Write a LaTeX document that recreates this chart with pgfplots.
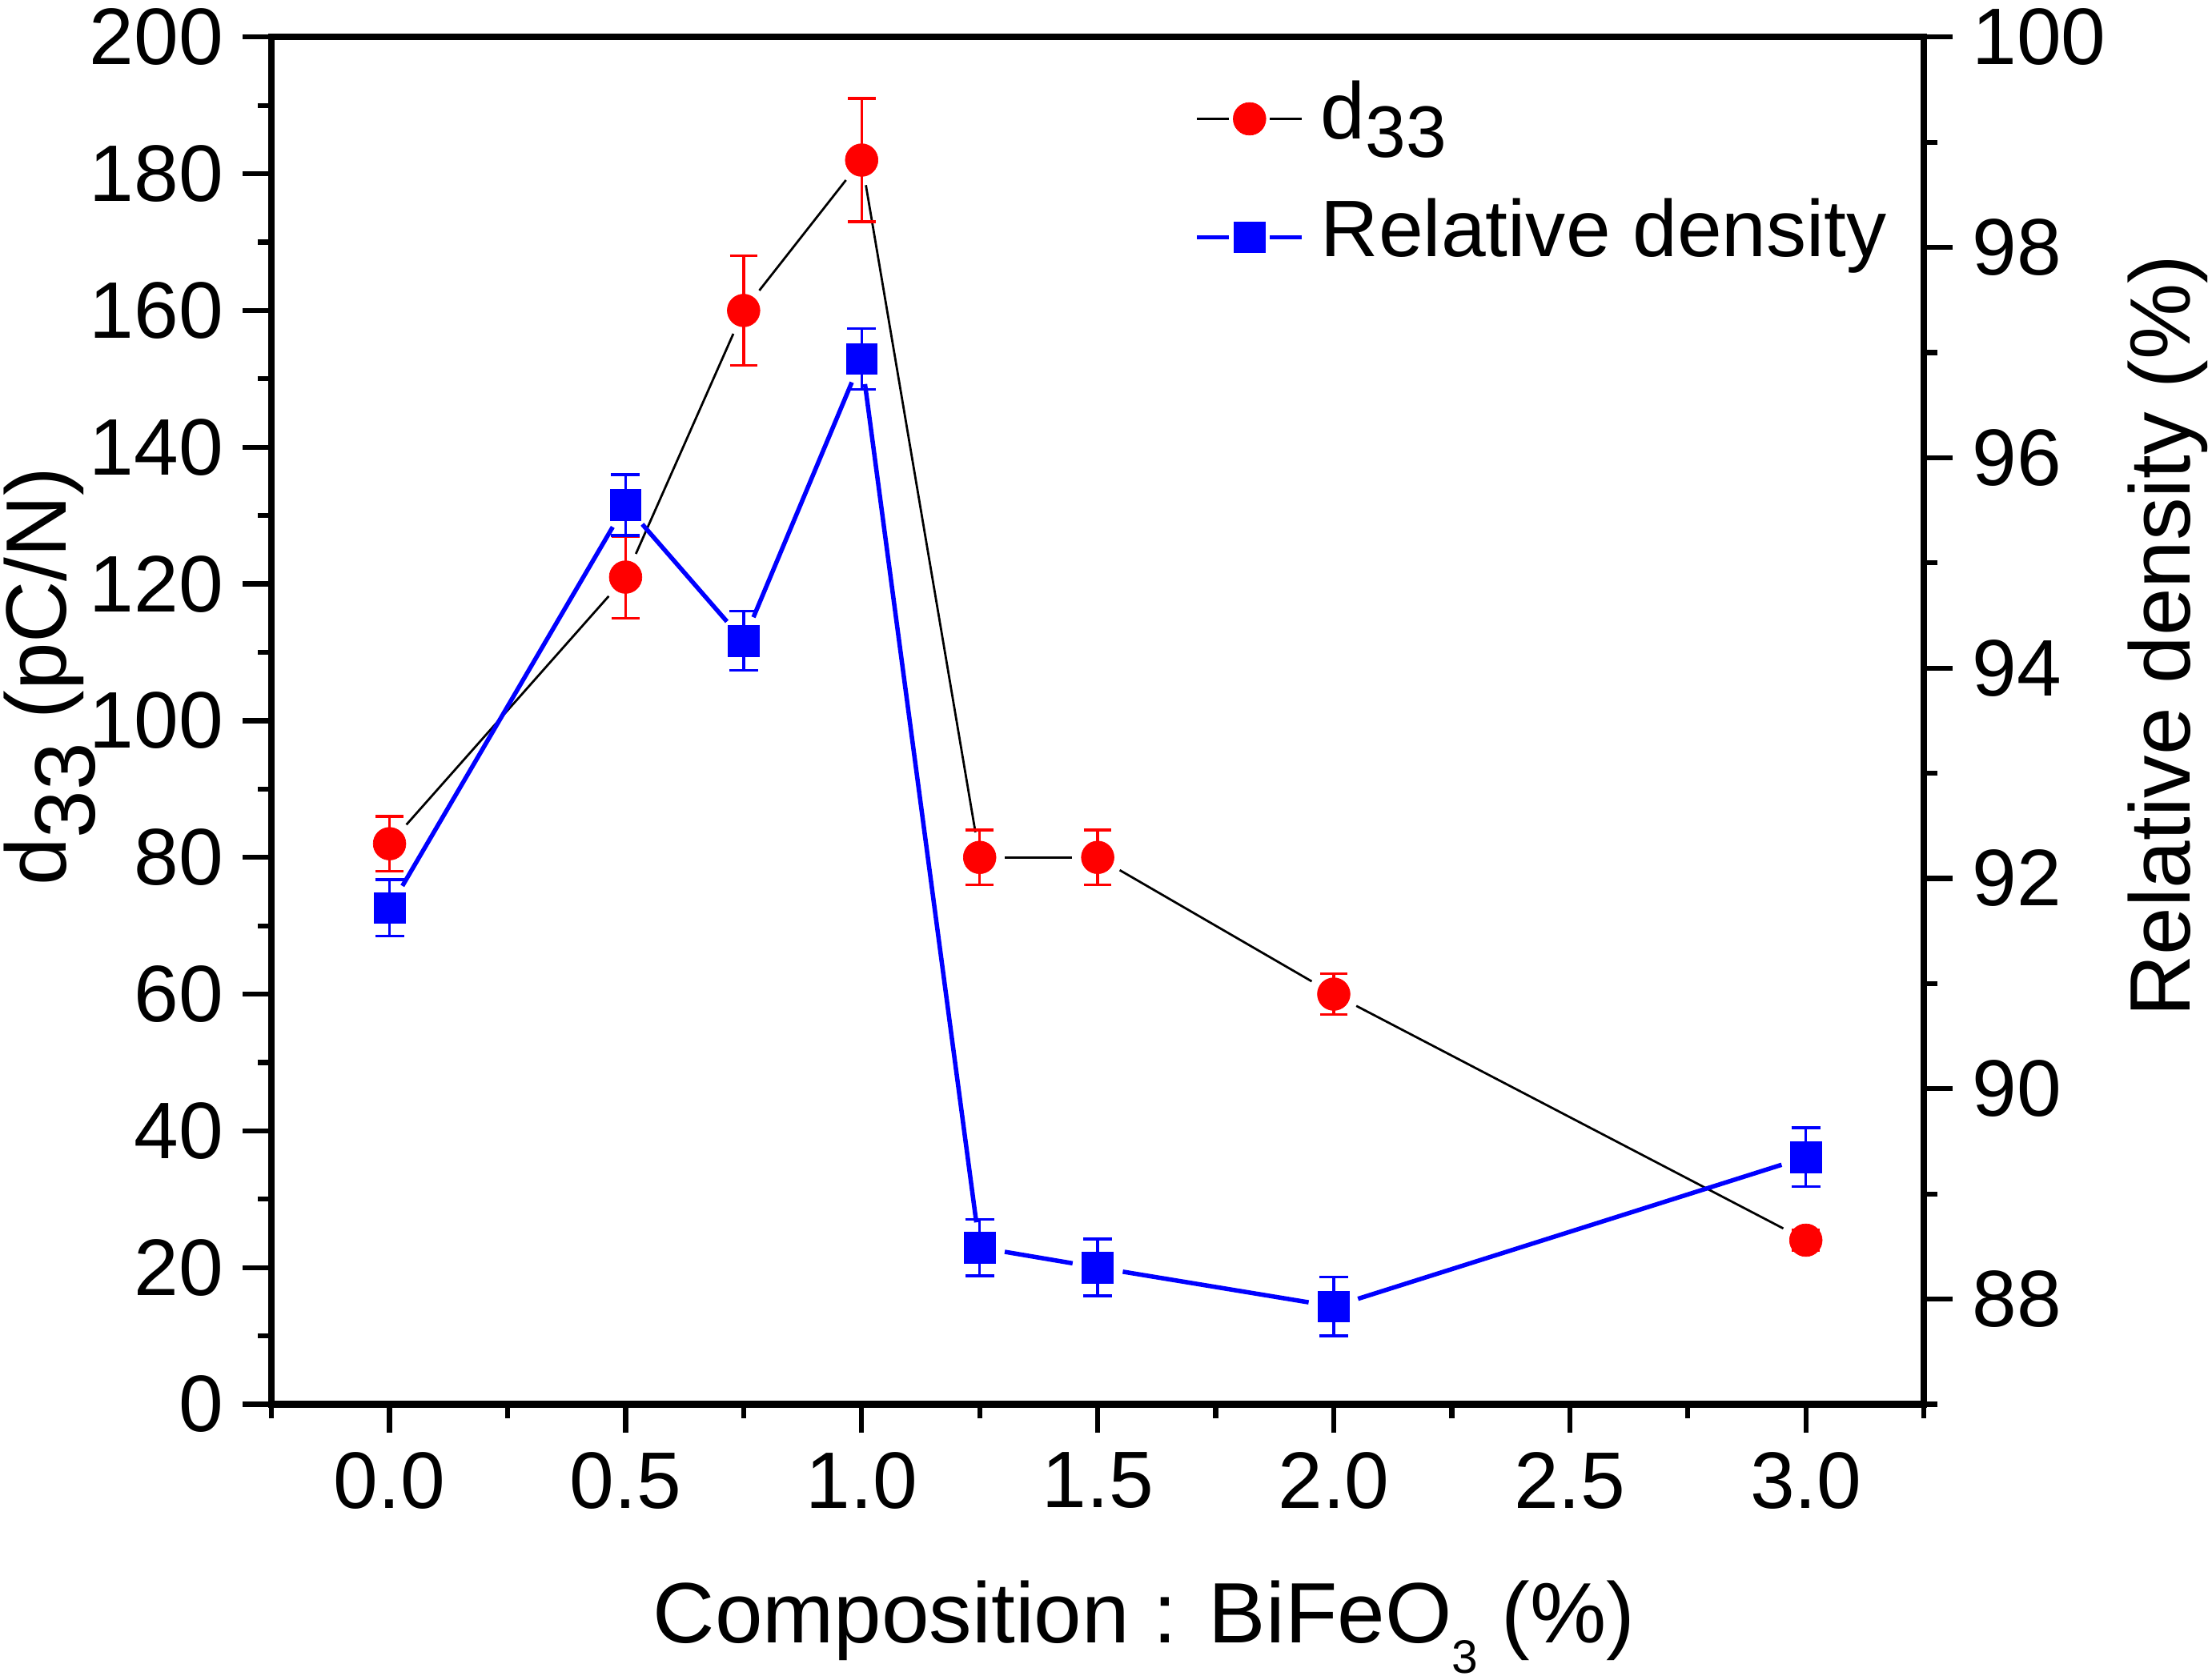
\documentclass[border=0pt]{standalone}
\usepackage{fontspec}
\setmainfont{Liberation Sans}
\usepackage{pgfplots}
\usepackage{pgfplotstable}
\pgfplotsset{compat=1.18}

\newcommand{\lblfont}{\fontsize{15.5}{18}\selectfont}
\newcommand{\tickfont}{\fontsize{14.5}{17}\selectfont}
\newcommand{\legfont}{\fontsize{14.5}{17}\selectfont}

\pgfplotstableread{
x y e
0 82 4
0.5 121 6
0.75 160 8
1.0 182 9
1.25 80 4
1.5 80 4
2.0 60 3
3.0 24 1.5
}\dthree

\pgfplotstableread{
x y e
0 91.72 0.27
0.5 95.55 0.29
0.75 94.26 0.28
1.0 96.94 0.29
1.25 88.49 0.27
1.5 88.30 0.27
2.0 87.93 0.28
3.0 89.35 0.28
}\dens

\begin{document}
\begin{tikzpicture}
\pgfplotsset{
  common/.style={
    scale only axis, width=298.8pt, height=247.3pt,
    xmin=-0.25, xmax=3.25,
    tick align=outside,
    major tick length=5.2pt, minor tick length=2.5pt,
    every tick/.style={black, line width=0.9pt},
    axis line style={line width=1.2pt},
    tick label style={font=\tickfont},
    /pgf/number format/assume math mode=true,
  },
  dseg/.style={black, line width=0.4pt, shorten <=4.6pt, shorten >=4.6pt, forget plot, mark=none},
  bseg/.style={blue, line width=0.8pt, shorten <=4.6pt, shorten >=4.6pt, forget plot, mark=none},
}
\begin{axis}[common,
  ymin=0, ymax=200, ytick={0,20,...,200}, minor ytick={10,30,...,190},
  xtick={0,0.5,...,3}, minor xtick={-0.25,0.25,0.75,1.25,1.75,2.25,2.75,3.25},
  xtick pos=bottom, ytick pos=left,
  xticklabel style={/pgf/number format/.cd, fixed, fixed zerofill, precision=1},
  xlabel={Composition : BiFeO\raisebox{-5.5pt}{\fontsize{8.5}{9}\selectfont 3} (\%)},
  ylabel={d\raisebox{-0.33em}{33} (pC/N)},
  xlabel style={font=\lblfont, at={(axis description cs:0.5,0)}, anchor=base, yshift=-43.1pt, xshift=8.4pt},
  ylabel style={font=\lblfont, rotate=0, at={([xshift=-37.1pt,yshift=8pt]axis description cs:0,0.5)}, anchor=base},
]
\coordinate (ll) at (rel axis cs:0,0);
\coordinate (ur) at (rel axis cs:1,1);
\addplot[dseg] coordinates {(0,82) (0.5,121)};
\addplot[dseg] coordinates {(0.5,121) (0.75,160)};
\addplot[dseg] coordinates {(0.75,160) (1.0,182)};
\addplot[dseg] coordinates {(1.0,182) (1.25,80)};
\addplot[dseg] coordinates {(1.25,80) (1.5,80)};
\addplot[dseg] coordinates {(1.5,80) (2.0,60)};
\addplot[dseg] coordinates {(2.0,60) (3.0,24)};
\addplot[red, only marks, mark=*, mark size=2.95pt,
  mark options={fill=red, draw=red, line width=0.1pt},
  error bars/.cd, y dir=both, y explicit,
  error bar style={red, line width=0.5pt},
  error mark options={rotate=90, red, mark size=2.5pt, line width=0.5pt}]
  table[x=x, y=y, y error=e] {\dthree};
\end{axis}

\begin{axis}[common,
  ymin=87, ymax=100, ytick={88,90,...,100}, minor ytick={87,89,...,99},
  axis y line*=right, axis x line=none,
  ylabel={Relative density (\%)},
  ylabel style={font=\lblfont, rotate=0, at={([xshift=48.1pt,yshift=15.3pt]axis description cs:1,0.5)}, anchor=base},
  legend image code/.code={
    \draw[#1, mark=none] (0pt,0pt) -- (5.8pt,0pt);
    \draw[#1, mark=none] (13.2pt,0pt) -- (19pt,0pt);
    \draw[#1, only marks] plot coordinates {(9.5pt,0pt)};
  },
  legend style={at={(rel axis cs:0.5581,0.9699)}, anchor=north west,
    draw=none, fill=none, inner sep=0pt, column sep=3pt, row sep=7.1pt,
    nodes={inner sep=0pt, text height=10.7pt, text depth=3.6pt, font=\legfont}},
  legend cell align=left,
]
\addlegendimage{black, line width=0.4pt, mark=*, mark size=2.95pt, mark options={solid, fill=red, draw=red, line width=0.1pt}}
\addlegendentry{d\raisebox{-0.23em}{\fontsize{13.2}{14}\selectfont 33}}
\addlegendimage{blue, line width=0.8pt, mark=square*, mark size=2.8pt, mark options={solid, fill=blue, draw=blue, line width=0.1pt}}
\addlegendentry{Relative density}
\addplot[bseg] coordinates {(0,91.72) (0.5,95.55)};
\addplot[bseg] coordinates {(0.5,95.55) (0.75,94.26)};
\addplot[bseg] coordinates {(0.75,94.26) (1.0,96.94)};
\addplot[bseg] coordinates {(1.0,96.94) (1.25,88.49)};
\addplot[bseg] coordinates {(1.25,88.49) (1.5,88.30)};
\addplot[bseg] coordinates {(1.5,88.30) (2.0,87.93)};
\addplot[bseg] coordinates {(2.0,87.93) (3.0,89.35)};
\addplot[blue, only marks, mark=square*, mark size=2.8pt, forget plot,
  mark options={fill=blue, draw=blue, line width=0.1pt},
  error bars/.cd, y dir=both, y explicit,
  error bar style={blue, line width=0.5pt},
  error mark options={rotate=90, blue, mark size=2.6pt, line width=0.5pt}]
  table[x=x, y=y, y error=e] {\dens};
\end{axis}
\pgfresetboundingbox
\path ([xshift=-49.1pt,yshift=-49.1pt]ll) rectangle ([xshift=52.1pt,yshift=6.7pt]ur);
\end{tikzpicture}
\end{document}
